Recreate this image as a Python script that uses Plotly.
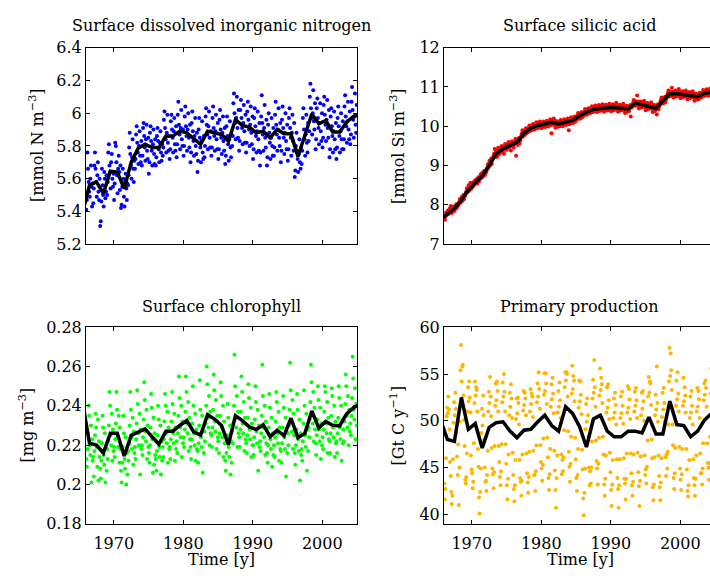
import plotly.graph_objects as go

# ---------------------------------------------------------------------------
# Data: monthly model output (one row of 12 months per year) and annual means
# ---------------------------------------------------------------------------
YEARS = list(range(1966, 2005))          # years with monthly values
MEAN_YEARS = list(range(1965, 2006))     # annual means, plotted at mid-year

din_annual = [5.39, 5.56, 5.58, 5.51, 5.645, 5.64, 5.54, 5.70, 5.785, 5.81, 5.79,
              5.79, 5.86, 5.86, 5.89, 5.88, 5.845, 5.81, 5.89, 5.88, 5.87, 5.83,
              5.96, 5.925, 5.915, 5.88, 5.89, 5.85, 5.90, 5.875, 5.875, 5.735,
              5.865, 5.995, 5.935, 5.955, 5.885, 5.885, 5.945, 5.98, 5.99]

si_annual = [7.63, 7.77, 7.91, 8.12, 8.38, 8.56, 8.74, 9.00, 9.30, 9.43, 9.52,
             9.59, 9.82, 9.95, 10.02, 10.05, 10.10, 10.06, 10.10, 10.15, 10.26,
             10.36, 10.43, 10.46, 10.47, 10.48, 10.47, 10.44, 10.59, 10.55, 10.51,
             10.46, 10.65, 10.83, 10.83, 10.81, 10.79, 10.75, 10.84, 10.88, 10.90]

chl_annual = [0.242, 0.221, 0.220, 0.216, 0.226, 0.226, 0.2145, 0.225, 0.2266,
              0.2283, 0.2243, 0.2205, 0.2271, 0.2271, 0.230, 0.2325, 0.2268,
              0.2251, 0.2355, 0.2333, 0.230, 0.2203, 0.235, 0.2325, 0.2293, 0.228,
              0.2304, 0.2243, 0.2276, 0.2248, 0.2337, 0.2238, 0.226, 0.2374,
              0.2288, 0.2321, 0.2301, 0.2298, 0.2359, 0.2391, 0.241]

pp_annual = [50.1, 48.0, 47.8, 52.5, 49.1, 49.7, 47.1, 49.3, 49.8, 49.9, 48.9,
             48.2, 49.0, 49.1, 49.9, 50.6, 49.5, 48.9, 51.5, 50.8, 49.4, 47.2,
             50.2, 50.6, 48.9, 48.3, 48.3, 48.9, 48.9, 48.7, 50.4, 48.6, 48.6,
             52.1, 49.6, 49.5, 48.3, 48.9, 50.1, 50.8, 51.2]

din_monthly = [
    [5.41, 5.47, 5.76, 5.66, 5.58, 5.52, 5.49, 5.60, 5.68, 5.55, 5.43, 5.57],
    [5.45, 5.54, 5.68, 5.76, 5.66, 5.58, 5.49, 5.62, 5.70, 5.52, 5.47, 5.60],
    [5.31, 5.34, 5.46, 5.66, 5.56, 5.50, 5.43, 5.64, 5.60, 5.48, 5.52, 5.62],
    [5.50, 5.58, 5.76, 5.81, 5.68, 5.64, 5.54, 5.70, 5.75, 5.60, 5.55, 5.63],
    [5.47, 5.57, 5.82, 5.80, 5.70, 5.62, 5.51, 5.66, 5.74, 5.64, 5.53, 5.68],
    [5.42, 5.44, 5.55, 5.66, 5.60, 5.49, 5.43, 5.58, 5.63, 5.54, 5.47, 5.57],
    [5.56, 5.62, 5.79, 5.88, 5.75, 5.68, 5.60, 5.73, 5.84, 5.66, 5.58, 5.71],
    [5.66, 5.72, 5.87, 5.92, 5.82, 5.76, 5.69, 5.80, 5.89, 5.74, 5.70, 5.83],
    [5.68, 5.74, 5.91, 5.94, 5.86, 5.79, 5.71, 5.84, 5.93, 5.77, 5.72, 5.85],
    [5.63, 5.70, 5.88, 5.92, 5.83, 5.77, 5.68, 5.81, 5.90, 5.75, 5.69, 5.84],
    [5.68, 5.73, 5.86, 5.91, 5.83, 5.78, 5.70, 5.82, 5.89, 5.76, 5.71, 5.81],
    [5.74, 5.79, 5.96, 6.01, 5.91, 5.84, 5.76, 5.88, 5.99, 5.82, 5.77, 5.86],
    [5.72, 5.78, 5.95, 5.99, 5.90, 5.85, 5.76, 5.89, 5.97, 5.81, 5.77, 5.92],
    [5.73, 5.81, 5.99, 6.07, 5.93, 5.87, 5.78, 5.91, 6.02, 5.84, 5.80, 5.90],
    [5.74, 5.80, 5.98, 6.04, 5.92, 5.86, 5.77, 5.90, 6.00, 5.85, 5.79, 5.93],
    [5.70, 5.76, 5.94, 6.01, 5.89, 5.83, 5.74, 5.86, 5.97, 5.80, 5.75, 5.88],
    [5.64, 5.71, 5.90, 5.97, 5.85, 5.79, 5.70, 5.83, 5.95, 5.76, 5.72, 5.86],
    [5.73, 5.80, 5.98, 6.03, 5.93, 5.87, 5.78, 5.92, 6.01, 5.85, 5.79, 5.89],
    [5.74, 5.79, 5.97, 6.04, 5.91, 5.86, 5.77, 5.89, 5.99, 5.84, 5.78, 5.94],
    [5.72, 5.78, 5.96, 6.02, 5.90, 5.85, 5.75, 5.88, 5.98, 5.83, 5.77, 5.91],
    [5.69, 5.74, 5.92, 5.98, 5.86, 5.81, 5.71, 5.84, 5.95, 5.79, 5.73, 5.87],
    [5.80, 5.86, 6.06, 6.12, 6.00, 5.94, 5.84, 5.97, 6.10, 5.91, 5.85, 6.02],
    [5.77, 5.83, 6.02, 6.08, 5.97, 5.91, 5.81, 5.94, 6.05, 5.89, 5.82, 5.99],
    [5.76, 5.82, 6.01, 6.07, 5.96, 5.90, 5.80, 5.93, 6.04, 5.88, 5.81, 5.98],
    [5.72, 5.78, 5.97, 6.03, 5.92, 5.86, 5.76, 5.89, 6.01, 5.84, 5.77, 5.94],
    [5.68, 5.76, 5.98, 6.11, 5.94, 5.87, 5.77, 5.91, 6.05, 5.85, 5.79, 5.96],
    [5.68, 5.73, 5.93, 6.00, 5.88, 5.82, 5.72, 5.85, 5.97, 5.80, 5.74, 5.91],
    [5.74, 5.79, 5.99, 6.07, 5.93, 5.87, 5.77, 5.90, 6.03, 5.85, 5.80, 5.94],
    [5.70, 5.77, 5.96, 6.04, 5.91, 5.85, 5.75, 5.88, 6.00, 5.83, 5.78, 5.93],
    [5.71, 5.78, 5.97, 6.03, 5.91, 5.85, 5.74, 5.88, 5.99, 5.83, 5.77, 5.94],
    [5.61, 5.65, 5.80, 5.88, 5.77, 5.72, 5.64, 5.75, 5.84, 5.70, 5.66, 5.79],
    [5.69, 5.77, 5.97, 6.03, 5.90, 5.84, 5.74, 5.87, 5.99, 5.82, 5.76, 5.94],
    [5.83, 5.89, 6.10, 6.18, 6.03, 5.97, 5.87, 6.00, 6.14, 5.95, 5.90, 6.06],
    [5.78, 5.84, 6.03, 6.09, 5.97, 5.91, 5.81, 5.94, 6.06, 5.89, 5.83, 6.00],
    [5.79, 5.85, 6.05, 6.10, 5.99, 5.93, 5.83, 5.96, 6.08, 5.91, 5.85, 6.02],
    [5.73, 5.78, 5.98, 6.03, 5.92, 5.86, 5.76, 5.89, 6.01, 5.84, 5.78, 5.94],
    [5.72, 5.79, 5.97, 6.04, 5.92, 5.86, 5.76, 5.89, 6.00, 5.84, 5.78, 5.95],
    [5.78, 5.84, 6.04, 6.11, 5.98, 5.92, 5.82, 5.95, 6.07, 5.90, 5.84, 6.01],
    [5.81, 5.87, 6.07, 6.16, 6.02, 5.96, 5.85, 5.98, 6.12, 5.93, 5.88, 6.05],
]

si_monthly = [
    [7.66, 7.62, 7.70, 7.80, 7.74, 7.79, 7.85, 7.76, 7.83, 7.90, 7.81, 7.97],
    [7.82, 7.79, 7.86, 7.95, 7.88, 7.84, 7.97, 7.92, 7.90, 8.02, 7.94, 8.00],
    [7.98, 8.03, 8.08, 8.15, 8.05, 8.12, 8.20, 8.10, 8.17, 8.25, 8.14, 8.22],
    [8.25, 8.30, 8.34, 8.42, 8.32, 8.38, 8.50, 8.36, 8.45, 8.56, 8.40, 8.44],
    [8.45, 8.50, 8.48, 8.58, 8.52, 8.62, 8.55, 8.60, 8.66, 8.54, 8.63, 8.70],
    [8.60, 8.66, 8.70, 8.78, 8.68, 8.74, 8.82, 8.72, 8.80, 8.86, 8.76, 8.84],
    [8.82, 8.88, 8.93, 9.02, 8.95, 9.05, 9.12, 9.00, 9.08, 9.18, 9.04, 9.15],
    [9.18, 9.24, 9.30, 9.42, 9.26, 9.33, 9.38, 9.22, 9.35, 9.45, 9.28, 9.40],
    [9.32, 9.38, 9.45, 9.50, 9.36, 9.42, 9.48, 9.30, 9.40, 9.55, 9.44, 9.50],
    [9.40, 9.48, 9.55, 9.60, 9.45, 9.52, 9.58, 9.38, 9.50, 9.62, 9.49, 9.56],
    [9.46, 9.55, 9.62, 9.68, 9.25, 9.58, 9.66, 9.52, 9.60, 9.70, 9.57, 9.64],
    [9.70, 9.76, 9.82, 9.90, 9.74, 9.80, 9.88, 9.78, 9.85, 9.95, 9.82, 9.92],
    [9.85, 9.90, 9.96, 10.02, 9.88, 9.94, 10.00, 9.90, 9.98, 10.06, 9.93, 10.01],
    [9.92, 9.97, 10.03, 10.10, 9.95, 10.01, 10.07, 9.96, 10.04, 10.12, 9.99, 10.06],
    [9.95, 10.00, 10.06, 10.12, 9.98, 10.04, 10.10, 9.99, 10.07, 10.14, 10.02, 10.09],
    [10.00, 10.05, 10.11, 10.18, 10.03, 9.82, 10.15, 10.04, 10.12, 10.20, 10.07, 10.14],
    [9.96, 10.01, 10.07, 10.13, 9.99, 10.05, 10.11, 10.00, 10.08, 10.16, 10.03, 10.10],
    [10.00, 10.05, 10.11, 10.18, 10.03, 10.09, 10.15, 10.04, 10.12, 10.20, 10.07, 9.90],
    [10.05, 10.10, 10.16, 10.23, 10.08, 10.14, 10.20, 10.09, 10.17, 10.25, 10.12, 10.19],
    [10.16, 10.21, 10.27, 10.34, 10.19, 10.25, 10.31, 10.20, 10.28, 10.36, 10.23, 10.30],
    [10.26, 10.31, 10.37, 10.44, 10.29, 10.35, 10.41, 10.30, 10.38, 10.46, 10.33, 10.40],
    [10.33, 10.38, 10.44, 10.51, 10.36, 10.42, 10.48, 10.37, 10.45, 10.53, 10.40, 10.47],
    [10.36, 10.41, 10.47, 10.54, 10.39, 10.45, 10.51, 10.40, 10.48, 10.56, 10.43, 10.50],
    [10.37, 10.42, 10.48, 10.55, 10.40, 10.46, 10.52, 10.41, 10.49, 10.57, 10.44, 10.51],
    [10.38, 10.43, 10.49, 10.56, 10.41, 10.47, 10.53, 10.42, 10.50, 10.60, 10.45, 10.52],
    [10.37, 10.42, 10.48, 10.55, 10.40, 10.46, 10.52, 10.41, 10.49, 10.57, 10.44, 10.51],
    [10.34, 10.39, 10.45, 10.52, 10.37, 10.43, 10.49, 10.38, 10.46, 10.54, 10.25, 10.48],
    [10.49, 10.54, 10.60, 10.67, 10.52, 10.58, 10.64, 10.53, 10.61, 10.78, 10.56, 10.63],
    [10.45, 10.50, 10.56, 10.63, 10.48, 10.54, 10.60, 10.49, 10.57, 10.65, 10.52, 10.59],
    [10.41, 10.46, 10.52, 10.59, 10.44, 10.50, 10.56, 10.45, 10.53, 10.61, 10.48, 10.55],
    [10.36, 10.41, 10.47, 10.54, 10.39, 10.45, 10.51, 10.30, 10.48, 10.56, 10.43, 10.50],
    [10.55, 10.60, 10.66, 10.73, 10.58, 10.64, 10.70, 10.59, 10.67, 10.75, 10.62, 10.69],
    [10.73, 10.78, 10.84, 10.91, 10.76, 10.82, 10.88, 10.77, 10.85, 10.98, 10.80, 10.87],
    [10.73, 10.78, 10.84, 10.91, 10.76, 10.82, 10.88, 10.77, 10.85, 10.95, 10.80, 10.87],
    [10.71, 10.76, 10.82, 10.89, 10.74, 10.80, 10.86, 10.75, 10.83, 10.91, 10.78, 10.85],
    [10.69, 10.74, 10.80, 10.87, 10.72, 10.78, 10.84, 10.73, 10.81, 10.89, 10.76, 10.83],
    [10.65, 10.70, 10.76, 10.83, 10.68, 10.74, 10.80, 10.69, 10.77, 10.85, 10.72, 10.79],
    [10.74, 10.79, 10.85, 10.92, 10.77, 10.83, 10.89, 10.78, 10.86, 10.94, 10.81, 10.88],
    [10.78, 10.83, 10.89, 10.96, 10.81, 10.87, 10.93, 10.82, 10.90, 10.98, 10.85, 10.92],
]

chl_monthly = [
    [0.213, 0.209, 0.218, 0.226, 0.240, 0.235, 0.220, 0.215, 0.230, 0.201, 0.223, 0.212],
    [0.214, 0.204, 0.217, 0.225, 0.236, 0.229, 0.219, 0.209, 0.233, 0.202, 0.222, 0.214],
    [0.208, 0.203, 0.212, 0.221, 0.235, 0.229, 0.215, 0.210, 0.226, 0.201, 0.218, 0.207],
    [0.218, 0.213, 0.222, 0.230, 0.247, 0.240, 0.225, 0.220, 0.236, 0.212, 0.228, 0.217],
    [0.219, 0.214, 0.223, 0.231, 0.247, 0.238, 0.224, 0.219, 0.235, 0.211, 0.229, 0.218],
    [0.207, 0.201, 0.211, 0.219, 0.235, 0.226, 0.213, 0.208, 0.224, 0.200, 0.216, 0.205],
    [0.217, 0.212, 0.221, 0.230, 0.247, 0.238, 0.224, 0.218, 0.234, 0.210, 0.227, 0.216],
    [0.219, 0.213, 0.223, 0.231, 0.248, 0.241, 0.226, 0.220, 0.236, 0.205, 0.228, 0.218],
    [0.220, 0.215, 0.224, 0.233, 0.252, 0.243, 0.227, 0.222, 0.238, 0.213, 0.230, 0.219],
    [0.216, 0.211, 0.220, 0.229, 0.246, 0.239, 0.223, 0.206, 0.234, 0.210, 0.226, 0.215],
    [0.213, 0.207, 0.217, 0.225, 0.240, 0.233, 0.219, 0.214, 0.230, 0.205, 0.222, 0.212],
    [0.219, 0.214, 0.223, 0.232, 0.246, 0.240, 0.226, 0.221, 0.237, 0.211, 0.229, 0.218],
    [0.219, 0.213, 0.223, 0.232, 0.247, 0.241, 0.226, 0.221, 0.236, 0.212, 0.229, 0.218],
    [0.222, 0.216, 0.226, 0.235, 0.255, 0.244, 0.229, 0.224, 0.240, 0.214, 0.232, 0.221],
    [0.224, 0.219, 0.228, 0.237, 0.255, 0.247, 0.231, 0.226, 0.242, 0.217, 0.234, 0.223],
    [0.219, 0.213, 0.223, 0.231, 0.250, 0.240, 0.226, 0.220, 0.236, 0.212, 0.228, 0.218],
    [0.217, 0.211, 0.221, 0.230, 0.253, 0.238, 0.224, 0.219, 0.235, 0.206, 0.227, 0.216],
    [0.227, 0.222, 0.231, 0.240, 0.260, 0.251, 0.234, 0.229, 0.245, 0.220, 0.237, 0.226],
    [0.225, 0.219, 0.229, 0.238, 0.256, 0.248, 0.232, 0.227, 0.243, 0.218, 0.235, 0.224],
    [0.222, 0.216, 0.226, 0.235, 0.252, 0.245, 0.229, 0.224, 0.240, 0.214, 0.232, 0.221],
    [0.212, 0.207, 0.216, 0.225, 0.241, 0.234, 0.219, 0.214, 0.230, 0.205, 0.222, 0.211],
    [0.227, 0.221, 0.231, 0.240, 0.266, 0.250, 0.234, 0.229, 0.245, 0.219, 0.237, 0.226],
    [0.224, 0.219, 0.228, 0.237, 0.255, 0.247, 0.231, 0.226, 0.242, 0.217, 0.234, 0.223],
    [0.221, 0.216, 0.225, 0.234, 0.251, 0.244, 0.228, 0.223, 0.239, 0.214, 0.231, 0.220],
    [0.220, 0.215, 0.224, 0.233, 0.250, 0.242, 0.227, 0.221, 0.238, 0.207, 0.230, 0.219],
    [0.222, 0.217, 0.226, 0.235, 0.261, 0.245, 0.229, 0.224, 0.240, 0.215, 0.232, 0.221],
    [0.216, 0.211, 0.220, 0.229, 0.246, 0.239, 0.223, 0.218, 0.234, 0.209, 0.226, 0.215],
    [0.220, 0.214, 0.224, 0.232, 0.247, 0.242, 0.226, 0.221, 0.237, 0.212, 0.229, 0.218],
    [0.217, 0.211, 0.221, 0.229, 0.245, 0.239, 0.224, 0.218, 0.234, 0.204, 0.227, 0.216],
    [0.226, 0.220, 0.230, 0.238, 0.262, 0.248, 0.232, 0.227, 0.243, 0.218, 0.236, 0.225],
    [0.216, 0.210, 0.220, 0.228, 0.246, 0.238, 0.223, 0.217, 0.233, 0.202, 0.226, 0.215],
    [0.218, 0.212, 0.222, 0.231, 0.248, 0.240, 0.225, 0.219, 0.236, 0.207, 0.228, 0.217],
    [0.229, 0.224, 0.233, 0.242, 0.261, 0.252, 0.236, 0.231, 0.247, 0.222, 0.239, 0.228],
    [0.221, 0.215, 0.225, 0.233, 0.250, 0.243, 0.228, 0.222, 0.239, 0.213, 0.231, 0.220],
    [0.224, 0.218, 0.228, 0.237, 0.250, 0.247, 0.231, 0.226, 0.242, 0.216, 0.234, 0.223],
    [0.222, 0.216, 0.226, 0.235, 0.249, 0.245, 0.229, 0.224, 0.240, 0.214, 0.232, 0.221],
    [0.222, 0.216, 0.226, 0.234, 0.250, 0.244, 0.229, 0.223, 0.240, 0.212, 0.232, 0.221],
    [0.228, 0.222, 0.232, 0.241, 0.256, 0.250, 0.235, 0.229, 0.245, 0.220, 0.238, 0.227],
    [0.231, 0.225, 0.235, 0.244, 0.265, 0.254, 0.238, 0.233, 0.249, 0.223, 0.241, 0.230],
]

pp_monthly = [
    [43.3, 41.6, 42.7, 46.0, 50.5, 51.4, 50.8, 52.6, 51.2, 49.1, 45.6, 44.1],
    [42.4, 41.1, 42.0, 45.9, 49.8, 52.0, 50.6, 53.0, 51.3, 48.7, 46.2, 44.2],
    [47.5, 41.0, 45.0, 49.9, 55.4, 58.1, 54.2, 55.8, 56.0, 52.7, 50.1, 47.3],
    [43.7, 43.3, 44.0, 46.5, 51.0, 53.6, 52.1, 54.2, 52.5, 50.9, 46.3, 44.8],
    [44.4, 42.8, 43.5, 47.6, 51.9, 54.2, 52.7, 53.6, 53.3, 51.0, 47.0, 45.1],
    [41.8, 40.1, 42.4, 44.9, 48.7, 51.3, 49.5, 52.7, 50.6, 48.0, 45.0, 43.5],
    [43.6, 42.5, 44.2, 46.8, 51.0, 53.1, 51.9, 54.7, 52.6, 50.5, 47.1, 44.9],
    [44.3, 42.8, 44.5, 47.3, 51.6, 54.0, 52.2, 54.2, 53.2, 51.0, 47.3, 45.6],
    [44.0, 43.1, 44.6, 47.5, 52.0, 54.1, 52.6, 55.0, 53.1, 51.0, 47.5, 45.4],
    [43.1, 41.6, 43.8, 46.4, 50.6, 53.0, 51.5, 53.9, 52.4, 50.3, 46.6, 44.2],
    [42.7, 41.4, 43.1, 45.8, 50.2, 52.4, 50.8, 52.5, 51.9, 49.6, 45.8, 43.9],
    [43.5, 42.0, 43.6, 46.4, 51.1, 53.2, 51.7, 53.0, 52.4, 50.6, 46.5, 44.4],
    [43.4, 42.3, 44.0, 46.7, 51.0, 53.4, 51.8, 52.9, 52.6, 50.4, 46.8, 44.2],
    [44.2, 42.5, 44.6, 47.4, 52.0, 54.0, 52.6, 55.2, 53.4, 51.3, 47.4, 45.6],
    [44.9, 43.6, 45.3, 48.1, 52.8, 55.1, 53.2, 55.1, 54.0, 51.8, 48.2, 46.1],
    [43.9, 42.6, 44.3, 47.0, 51.5, 53.9, 52.3, 54.6, 52.9, 50.8, 46.8, 44.7],
    [42.6, 40.7, 43.9, 46.3, 50.9, 53.2, 51.5, 54.1, 52.2, 50.3, 46.4, 44.3],
    [45.8, 44.6, 46.1, 49.0, 53.6, 55.2, 54.3, 55.2, 55.0, 52.6, 48.9, 46.7],
    [45.1, 43.5, 45.4, 48.3, 52.9, 55.9, 53.4, 54.8, 54.3, 52.1, 48.2, 45.9],
    [43.9, 42.5, 44.2, 47.0, 51.4, 54.3, 52.1, 54.2, 52.8, 50.7, 46.9, 44.8],
    [41.7, 39.9, 42.3, 44.9, 49.1, 51.8, 49.9, 52.4, 50.6, 48.3, 45.0, 43.1],
    [44.6, 43.3, 45.0, 47.8, 52.4, 54.4, 53.0, 56.5, 53.6, 51.5, 47.9, 45.7],
    [44.9, 43.2, 45.4, 48.2, 52.7, 55.6, 53.3, 54.6, 53.9, 51.9, 48.3, 46.4],
    [43.2, 42.0, 43.8, 46.3, 50.9, 53.6, 51.4, 53.9, 52.2, 50.2, 46.6, 44.5],
    [42.6, 40.9, 43.2, 45.8, 50.3, 52.4, 50.9, 53.0, 51.7, 49.6, 45.9, 43.9],
    [42.7, 40.7, 43.1, 45.9, 50.3, 52.6, 50.8, 53.1, 51.6, 49.7, 46.0, 43.8],
    [43.3, 41.6, 43.8, 46.5, 50.9, 53.7, 51.4, 53.4, 52.3, 50.2, 46.5, 44.4],
    [43.1, 42.0, 43.5, 46.4, 51.0, 53.1, 51.6, 53.5, 52.2, 50.3, 46.6, 44.5],
    [43.0, 40.9, 43.6, 46.2, 50.6, 53.0, 51.3, 53.2, 52.1, 50.0, 46.3, 44.2],
    [44.8, 43.3, 45.1, 47.9, 52.6, 54.7, 53.0, 54.2, 54.0, 51.7, 48.0, 46.0],
    [42.9, 41.5, 43.2, 46.1, 50.6, 52.8, 51.2, 55.8, 51.9, 49.9, 46.3, 44.1],
    [42.9, 41.5, 43.4, 46.0, 50.4, 53.0, 51.2, 53.5, 51.9, 49.9, 46.1, 44.1],
    [46.4, 44.9, 46.7, 49.6, 54.2, 57.8, 54.8, 57.2, 55.4, 53.3, 49.6, 47.4],
    [43.9, 42.7, 44.4, 47.1, 51.6, 54.3, 52.3, 55.2, 52.9, 51.0, 47.2, 44.9],
    [43.7, 42.6, 44.3, 47.0, 51.6, 54.6, 52.1, 53.6, 52.7, 50.9, 47.0, 44.8],
    [42.5, 41.9, 43.1, 45.8, 50.3, 52.6, 50.9, 53.2, 51.6, 49.6, 45.9, 43.9],
    [43.1, 42.0, 43.8, 46.3, 51.0, 53.5, 51.5, 53.2, 52.3, 50.3, 46.5, 44.4],
    [44.4, 43.2, 44.9, 47.6, 52.2, 54.0, 52.8, 54.3, 53.5, 51.5, 47.6, 45.5],
    [45.0, 43.7, 45.5, 48.3, 52.9, 55.6, 53.4, 54.6, 54.2, 52.2, 48.3, 46.2],
]

X_TICKS = [1970, 1980, 1990, 2000]
X_TICK_TEXT = ["1970", "1980", "1990", "2000"]

din_ticks = [5.2, 5.4, 5.6, 5.8, 6.0, 6.2, 6.4]
din_tick_text = ["5.2", "5.4", "5.6", "5.8", "6", "6.2", "6.4"]
si_ticks = [7, 8, 9, 10, 11, 12]
si_tick_text = ["7", "8", "9", "10", "11", "12"]
chl_ticks = [0.18, 0.20, 0.22, 0.24, 0.26, 0.28]
chl_tick_text = ["0.18", "0.2", "0.22", "0.24", "0.26", "0.28"]
pp_ticks = [40, 45, 50, 55, 60]
pp_tick_text = ["40", "45", "50", "55", "60"]

# ---------------------------------------------------------------------------
W, H = 710, 585
FONT = "DejaVu Serif"


def month_times():
    return [y + (m + 0.5) / 12.0 for y in YEARS for m in range(12)]


def flat(rows):
    return [v for row in rows for v in row]


mean_x = [y + 0.5 for y in MEAN_YEARS]
mt = month_times()

panels = [
    # monthly rows, annual means, dot colour, y range, ticks, labels
    (din_monthly, din_annual, "#0000FF", [5.2, 6.4], din_ticks, din_tick_text),
    (si_monthly, si_annual, "#FF0000", [7, 12], si_ticks, si_tick_text),
    (chl_monthly, chl_annual, "#00FF00", [0.18, 0.28], chl_ticks, chl_tick_text),
    (pp_monthly, pp_annual, "#FFB400", [39, 60], pp_ticks, pp_tick_text),
]

# pixel boxes of the four axes (left, right, top, bottom)
boxes = [(86, 357, 40, 243), (444, 710, 40, 243),
         (86, 357, 329, 532), (444, 710, 329, 532)]
px_per_year = (357 - 86) / 39.0

fig = go.Figure()
layout = dict(
    width=W, height=H,
    margin=dict(l=0, r=0, t=0, b=0),
    paper_bgcolor="white", plot_bgcolor="white",
    showlegend=False,
    font=dict(family=FONT, size=16, color="black"),
)

for i, (rows, annual, colour, yr, yt, ytt) in enumerate(panels):
    n = "" if i == 0 else str(i + 1)
    xa, ya = "x" + n, "y" + n
    fig.add_trace(go.Scatter(x=mt, y=flat(rows), mode="markers", xaxis=xa, yaxis=ya,
                             marker=dict(color=colour, size=4, line=dict(width=0))))
    fig.add_trace(go.Scatter(x=mean_x, y=annual, mode="lines", xaxis=xa, yaxis=ya,
                             line=dict(color="black", width=3.5)))
    l, r, t, b = boxes[i]
    right_col = i % 2 == 1
    bottom_row = i >= 2
    x_end = 1966 + (r - l) / px_per_year
    layout["xaxis" + n] = dict(
        domain=[l / W, r / W], range=[1966, x_end], anchor=ya,
        tickvals=X_TICKS, ticktext=X_TICK_TEXT, showticklabels=bottom_row,
        ticks="inside", ticklen=4, tickcolor="black", tickwidth=1,
        ticklabelstandoff=5,
        showline=True, linecolor="black", linewidth=1, mirror="ticks",
        showgrid=False, zeroline=False,
        tickfont=dict(family=FONT, size=16, color="black"),
    )
    layout["yaxis" + n] = dict(
        domain=[1 - b / H, 1 - t / H], range=yr, anchor=xa,
        tickvals=yt, ticktext=ytt,
        ticks="inside", ticklen=4, tickcolor="black", tickwidth=1,
        showline=True, linecolor="black", linewidth=1,
        mirror=False if right_col else "ticks",
        showgrid=False, zeroline=False,
        tickfont=dict(family=FONT, size=16, color="black"),
    )

titles = [
    ("Surface dissolved inorganic nitrogen", 221.5, 17.5),
    ("Surface silicic acid", 579.5, 17.5),
    ("Surface chlorophyll", 221.5, 307),
    ("Primary production", 579.5, 307),
]
ylabels = [
    ("[mmol N m<sup>−3</sup>]", 37, 141.5),
    ("[mmol Si m<sup>−3</sup>]", 398, 141.5),
    ("[mg m<sup>−3</sup>]", 27, 430.5),
    ("[Gt C y<sup>−1</sup>]", 398, 430.5),
]
xlabels = [("Time [y]", 221.5, 569), ("Time [y]", 580, 569)]

ann = []
for text, x, y in titles + xlabels:
    ann.append(dict(text=text, x=x / W, y=1 - y / H, xref="paper", yref="paper",
                    xanchor="center", yanchor="middle", showarrow=False,
                    font=dict(family=FONT, size=16, color="black")))
for text, x, y in ylabels:
    ann.append(dict(text=text, x=x / W, y=1 - y / H, xref="paper", yref="paper",
                    xanchor="center", yanchor="middle", showarrow=False, textangle=-90,
                    font=dict(family=FONT, size=16, color="black")))
layout["annotations"] = ann

fig.update_layout(**layout)
fig.write_html("out.html")
